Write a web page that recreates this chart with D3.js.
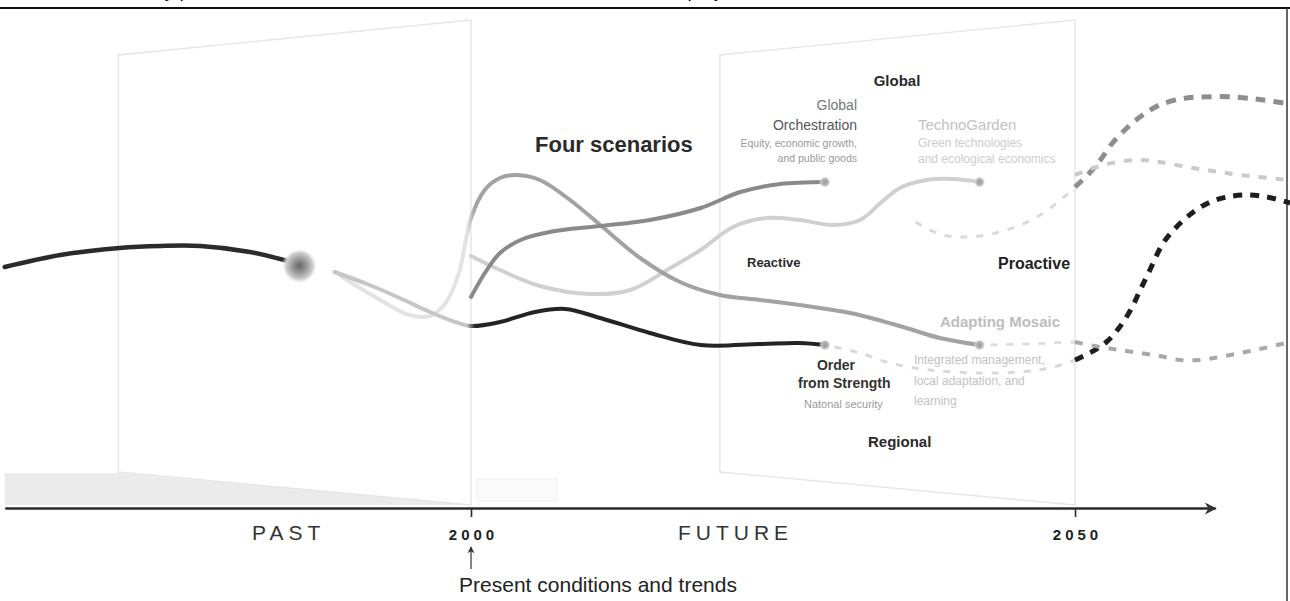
<!DOCTYPE html>
<html>
<head>
<meta charset="utf-8">
<script src="https://cdn.jsdelivr.net/npm/d3@7"></script>
<style>
  body { margin: 0; background: #fff; }
  svg { display: block; }
  text { font-family: "Liberation Sans", Arial, sans-serif; }
</style>
</head>
<body>
<div id="container"></div>
<script>
/* CONSTANTS AND GLOBALS */
const width = 1290, height = 601;

/* DATA : [year, level] pairs (level is a 0-100 index) */
const pastTrend = [[1961.4, 48.2], [1966.0, 50.6], [1970.9, 52.0], [1974.3, 52.4], [1977.6, 52.4], [1981.7, 51.2], [1985.4, 49.0]];
const presentPoint = [1985.8, 48.4];

const orderFromStrength = [[1988.7, 47.2], [1991.6, 44.6], [1994.1, 42.0], [1996.6, 39.2], [1998.7, 37.2], [2000, 36.4],
  [2002.4, 37.2], [2005.3, 39.2], [2007.8, 39.8], [2010.7, 38.0], [2014.8, 35.0], [2019.0, 32.6], [2023.9, 32.8], [2027.2, 33.0], [2029.3, 32.6]];
const adaptingMosaic = [[1989.2, 46.4], [1992.5, 41.6], [1994.9, 38.6], [1996.6, 38.4], [1997.9, 41.0], [1999.0, 47.0], [2000, 58.0],
  [2001.2, 63.8], [2002.4, 66.0], [2003.8, 66.6], [2005.7, 65.6], [2008.2, 61.6], [2010.7, 56.6], [2014.0, 50.0], [2017.3, 45.2],
  [2020.6, 42.6], [2023.9, 41.6], [2027.2, 40.6], [2031.4, 39.0], [2035.5, 36.4], [2038.8, 34.0], [2042.1, 32.6]];
const globalOrchestration = [[2000, 42.2], [2001.2, 47.2], [2002.4, 51.0], [2004.1, 53.6], [2006.5, 55.2], [2010.7, 56.4],
  [2014.8, 57.6], [2019.0, 60.0], [2022.3, 63.2], [2025.6, 64.8], [2029.3, 65.2]];
const technoGarden = [[2000, 50.4], [2002.4, 47.6], [2005.7, 44.4], [2009.9, 42.8], [2013.2, 43.6], [2016.5, 48.0], [2019.0, 51.6],
  [2021.7, 56.2], [2024.5, 58.0], [2027.2, 57.6], [2030.0, 56.6], [2032.2, 57.6], [2033.9, 61.0], [2035.5, 64.0], [2037.7, 65.6],
  [2039.9, 65.8], [2042.1, 65.2]];

// dashed paths beyond the scenarios
const beyondHigh = [[2036.8, 57.2], [2038.8, 54.8], [2040.9, 54.2], [2043.8, 55.2], [2046.7, 58.0], [2048.8, 61.6], [2050, 64.2],
  [2051.2, 67.0], [2052.1, 69.6], [2053.1, 73.0], [2054.3, 76.0], [2055.6, 78.6], [2057.0, 80.6], [2058.7, 81.8], [2060.3, 82.2],
  [2063.1, 82.2], [2065.6, 81.6], [2067.8, 80.8]];
const beyondUpper = [[2050, 66.6], [2051.8, 68.2], [2053.5, 69.2], [2055.4, 69.6], [2057.0, 69.2], [2059.3, 68.2], [2061.4, 67.4],
  [2063.7, 66.6], [2067.8, 65.6]];
const beyondRising = [[2030.1, 32.2], [2032.2, 31.0], [2034.7, 29.0], [2038.0, 27.6], [2042.1, 27.0], [2045.4, 27.2], [2047.9, 28.0],
  [2050, 29.6], [2051.2, 31.0], [2052.6, 33.2], [2053.7, 36.2], [2054.6, 39.6], [2055.4, 43.6], [2056.2, 47.6], [2057.3, 53.0],
  [2058.4, 56.2], [2059.8, 59.2], [2061.2, 61.2], [2062.6, 62.2], [2064.2, 62.6], [2065.9, 62.2], [2067.8, 61.0]];
const beyondLow = [[2043.0, 32.6], [2045.4, 32.8], [2047.9, 33.0], [2050, 33.2], [2052.1, 32.2], [2053.7, 31.6], [2055.4, 31.0],
  [2057.0, 30.4], [2058.7, 29.6], [2060.3, 29.6], [2062.0, 30.2], [2063.7, 31.0], [2065.3, 31.8], [2067.8, 33.2]];

const scenarioNames = ["Global Orchestration", "TechnoGarden", "Order from Strength", "Adapting Mosaic"];
const endYears = [2029.3, 2042.1, 2029.3, 2042.1];
const endLevels = [65.2, 65.2, 32.6, 32.6];

const tickYears = [2000, 2050];
const eraLabels = ["PAST", "FUTURE"];
const eraYears = [1984.9, 2021.9];
const planeYears = [1970.8, 2020.6]; // left edge of each plane, right edge is the tick year

/* SCALES */
const x = d3.scaleLinear().domain([2000, 2050]).range([471, 1075]);
const y = d3.scaleLinear().domain([0, 100]).range([508, 8]);

const svg = d3.select("#container").append("svg")
  .attr("width", width).attr("height", height);

const defs = svg.append("defs");
const blob = defs.append("radialGradient").attr("id", "blob");
blob.append("stop").attr("offset", "0%").attr("stop-color", "#666");
blob.append("stop").attr("offset", "40%").attr("stop-color", "#999");
blob.append("stop").attr("offset", "75%").attr("stop-color", "#cfcfcf");
blob.append("stop").attr("offset", "100%").attr("stop-color", "#fff").attr("stop-opacity", 0);
const dot = defs.append("radialGradient").attr("id", "dot");
dot.append("stop").attr("offset", "0%").attr("stop-color", "#999");
dot.append("stop").attr("offset", "60%").attr("stop-color", "#bbb");
dot.append("stop").attr("offset", "100%").attr("stop-color", "#fff").attr("stop-opacity", 0);
defs.append("marker").attr("id", "head").attr("viewBox", "0 0 10 10")
  .attr("refX", 9).attr("refY", 5).attr("markerWidth", 14).attr("markerHeight", 12)
  .attr("orient", "auto").attr("markerUnits", "userSpaceOnUse")
  .append("path").attr("d", "M0,0 L10,5 L0,10 L3,5 Z").attr("fill", "#333");
defs.append("marker").attr("id", "small").attr("viewBox", "0 0 10 10")
  .attr("refX", 9).attr("refY", 5).attr("markerWidth", 7).attr("markerHeight", 8)
  .attr("orient", "auto").attr("markerUnits", "userSpaceOnUse")
  .append("path").attr("d", "M0,0 L10,5 L0,10 L3,5 Z").attr("fill", "#333");

// hard colour switch at a given year, for the curves that pass 2000
function fade(id, yr, c0, c1) {
  const g = defs.append("linearGradient").attr("id", id)
    .attr("gradientUnits", "userSpaceOnUse").attr("x1", 0).attr("x2", width).attr("y1", 0).attr("y2", 0);
  g.append("stop").attr("offset", (x(yr) - 4) / width).attr("stop-color", c0);
  g.append("stop").attr("offset", (x(yr) + 4) / width).attr("stop-color", c1);
}
fade("ofs", 2000, "#c6c6c6", "#242424");
fade("am", 2000, "#e3e3e3", "#a2a2a2");

// clipped line of the surrounding page text + frame
svg.append("text").attr("x", 18).attr("y", -3)
  .attr("font-family", "Liberation Serif, serif").attr("font-size", 19)
  .text("scenarios in a way provide some useful alternatives to the MA and IPCC SRES projects.");
svg.append("line").attr("x1", 0).attr("x2", width).attr("y1", 8).attr("y2", 8)
  .attr("stroke", "#111").attr("stroke-width", 2);
svg.append("line").attr("x1", 1287).attr("x2", 1287).attr("y1", 8).attr("y2", height)
  .attr("stroke", "#333").attr("stroke-width", 1.5);

/* PLANES */
svg.append("path")
  .attr("d", `M${x(1961.4)},${y(7)} L${x(planeYears[0])},${y(7)} L${x(2000)},${y(0.6)} L${x(1961.4)},${y(0.6)} Z`)
  .attr("fill", "#ebebeb");
svg.append("rect").attr("x", x(2000.5)).attr("y", y(5.8)).attr("width", 80).attr("height", 22)
  .attr("fill", "#fafafa").attr("stroke", "#f0f0f0");

planeYears.forEach((py, i) => {
  const ex = tickYears[i];
  svg.append("path")
    .attr("d", `M${x(py)},${y(7.2)} L${x(py)},${y(90.6)} L${x(ex)},${y(97.6)} L${x(ex)},${y(0.6)} Z`)
    .attr("fill", "none").attr("stroke", "#e2e6e8").attr("stroke-width", 1.4);
});

/* LINES */
const line = d3.line().x(d => x(d[0])).y(d => y(d[1])).curve(d3.curveCatmullRom.alpha(0.5));
const before = (data, yr) => data.filter(d => d[0] <= yr);
const after = (data, yr) => data.filter(d => d[0] >= yr);

function draw(data, color, w, dash) {
  svg.append("path").attr("d", line(data))
    .attr("fill", "none").attr("stroke", color).attr("stroke-width", w)
    .attr("stroke-linecap", dash ? "butt" : "round")
    .attr("stroke-dasharray", dash || null);
}

// dashed beyond-2050
draw(before(beyondHigh, 2050), "#dadada", 3, "7,9");
draw(after(beyondHigh, 2050), "#8e8e8e", 5, "10,8");
draw(beyondUpper, "#cacaca", 4, "8,9");
draw(before(beyondRising, 2050), "#d9d9d9", 3, "7,9");
draw(after(beyondRising, 2050), "#1e1e1e", 5, "9,8");
draw(before(beyondLow, 2050), "#dedede", 3, "7,9");
draw(after(beyondLow, 2050), "#a8a8a8", 4, "8,9");

draw(technoGarden, "#d0d0d0", 4);
draw(adaptingMosaic, "url(#am)", 4);
draw(globalOrchestration, "#8a8a8a", 4);
draw(orderFromStrength, "url(#ofs)", 4);
draw(pastTrend, "#2b2b2b", 4.5);

svg.append("circle").attr("cx", x(presentPoint[0])).attr("cy", y(presentPoint[1]))
  .attr("r", 18).attr("fill", "url(#blob)");

svg.selectAll("circle.end").data(scenarioNames).join("circle")
  .attr("class", "end")
  .attr("cx", (d, i) => x(endYears[i])).attr("cy", (d, i) => y(endLevels[i]))
  .attr("r", 6).attr("fill", "url(#dot)");

/* AXIS */
const axisScale = x.copy().domain([1961.4, 2061.6]).range([x(1961.4), x(2061.6)]);
const axis = svg.append("g").attr("transform", `translate(0,${y(0)})`)
  .call(d3.axisBottom(axisScale).tickValues(tickYears).tickFormat(d3.format("d"))
    .tickSizeInner(9).tickSizeOuter(0).tickPadding(12));
axis.select(".domain").attr("stroke", "#2a2a2a").attr("stroke-width", 2.6).attr("marker-end", "url(#head)");
axis.selectAll(".tick line").attr("stroke", "#2a2a2a").attr("stroke-width", 1.6);
axis.selectAll(".tick text")
  .attr("font-size", 15).attr("font-weight", "bold").attr("letter-spacing", 4)
  .attr("fill", "#222").attr("dx", 2);

svg.selectAll("text.era").data(eraLabels).join("text")
  .attr("class", "era")
  .attr("x", (d, i) => x(eraYears[i])).attr("y", y(0) + 32)
  .attr("text-anchor", "middle").attr("font-size", 21).attr("letter-spacing", 5)
  .attr("fill", "#333").text(d => d);

svg.append("line").attr("x1", x(2000)).attr("x2", x(2000)).attr("y1", y(0) + 61).attr("y2", y(0) + 39)
  .attr("stroke", "#333").attr("stroke-width", 1.2).attr("marker-end", "url(#small)");
svg.append("text").attr("x", 598).attr("y", 592)
  .attr("text-anchor", "middle").attr("font-size", 21).attr("fill", "#222")
  .text("Present conditions and trends");

/* LABELS */
function label(tx, ty, str, size, color, weight, anchor) {
  svg.append("text").attr("x", tx).attr("y", ty).attr("font-size", size)
    .attr("fill", color).attr("font-weight", weight || "normal")
    .attr("text-anchor", anchor || "start").text(str);
}
label(535, 152, "Four scenarios", 22, "#2a2a2a", "bold");
label(897, 86, "Global", 15, "#2a2a2a", "bold", "middle");
label(868, 447, "Regional", 15, "#2a2a2a", "bold");
label(747, 267, "Reactive", 13, "#2a2a2a", "bold");
label(998, 269, "Proactive", 16, "#222", "bold");

label(857, 110, "Global", 14, "#777", "normal", "end");
label(857, 130, "Orchestration", 14, "#555", "normal", "end");
label(857, 147, "Equity, economic growth,", 10.5, "#999", "normal", "end");
label(857, 162, "and public goods", 10.5, "#999", "normal", "end");

label(918, 130, "TechnoGarden", 15, "#c2c2c2");
label(918, 147, "Green technologies", 12, "#cdcdcd");
label(918, 163, "and ecological economics", 12, "#cdcdcd");

label(940, 327, "Adapting Mosaic", 15, "#bdbdbd", "bold");
label(914, 364, "Integrated management,", 12, "#c2c2c2");
label(914, 385, "local adaptation, and", 12, "#c2c2c2");
label(914, 405, "learning", 12, "#c2c2c2");

label(836, 370, "Order", 14, "#333", "bold", "middle");
label(798, 388, "from Strength", 14, "#333", "bold");
label(804, 408, "Natonal security", 11, "#999");
</script>
</body>
</html>
